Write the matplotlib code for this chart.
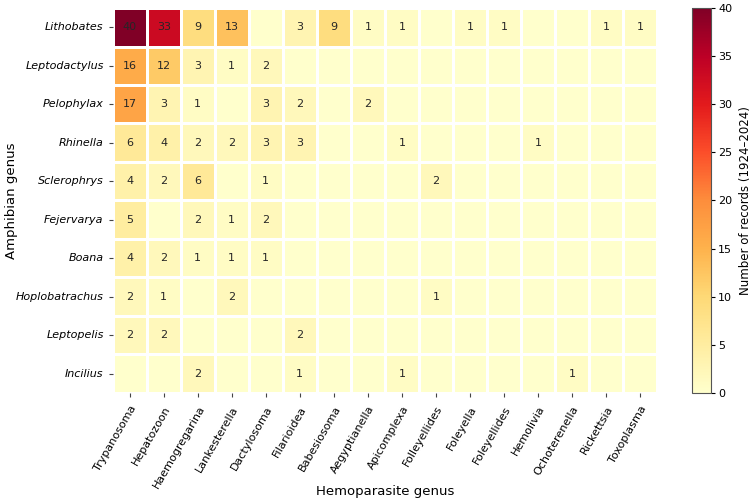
import numpy as np
import matplotlib
matplotlib.use('Agg')
import matplotlib.pyplot as plt
import seaborn as sns

amphibians = ['Lithobates', 'Leptodactylus', 'Pelophylax', 'Rhinella', 'Sclerophrys',
              'Fejervarya', 'Boana', 'Hoplobatrachus', 'Leptopelis', 'Incilius']
parasites = ['Trypanosoma', 'Hepatozoon', 'Haemogregarina', 'Lankesterella', 'Dactylosoma',
             'Filarioidea', 'Babesiosoma', 'Aegyptianella', 'Apicomplexa', 'Folleyellides',
             'Foleyella', 'Foleyellides', 'Hemolivia', 'Ochoterenella', 'Rickettsia', 'Toxoplasma']

lithobates     = [40, 33, 9, 13, 0, 3, 9, 1, 1, 0, 1, 1, 0, 0, 1, 1]
leptodactylus  = [16, 12, 3, 1, 2, 0, 0, 0, 0, 0, 0, 0, 0, 0, 0, 0]
pelophylax     = [17, 3, 1, 0, 3, 2, 0, 2, 0, 0, 0, 0, 0, 0, 0, 0]
rhinella       = [6, 4, 2, 2, 3, 3, 0, 0, 1, 0, 0, 0, 1, 0, 0, 0]
sclerophrys    = [4, 2, 6, 0, 1, 0, 0, 0, 0, 2, 0, 0, 0, 0, 0, 0]
fejervarya     = [5, 0, 2, 1, 2, 0, 0, 0, 0, 0, 0, 0, 0, 0, 0, 0]
boana          = [4, 2, 1, 1, 1, 0, 0, 0, 0, 0, 0, 0, 0, 0, 0, 0]
hoplobatrachus = [2, 1, 0, 2, 0, 0, 0, 0, 0, 1, 0, 0, 0, 0, 0, 0]
leptopelis     = [2, 2, 0, 0, 0, 2, 0, 0, 0, 0, 0, 0, 0, 0, 0, 0]
incilius       = [0, 0, 2, 0, 0, 1, 0, 0, 1, 0, 0, 0, 0, 1, 0, 0]

counts = np.array([lithobates, leptodactylus, pelophylax, rhinella, sclerophrys,
                   fejervarya, boana, hoplobatrachus, leptopelis, incilius])
labels = np.where(counts > 0, counts.astype(str), '')

fig = plt.figure(figsize=(7.51, 5.03), dpi=100)
ax = fig.add_axes([0.150, 0.219, 0.725, 0.765])
cax = fig.add_axes([0.921, 0.219, 0.026, 0.765])

sns.heatmap(counts, ax=ax, cbar_ax=cax, cmap='YlOrRd', vmin=0, vmax=40,
            annot=labels, fmt='', annot_kws={'fontsize': 8, 'color': '#262626'},
            linewidths=0.8, linecolor='white',
            xticklabels=parasites, yticklabels=amphibians)

ax.set_xticklabels(parasites, rotation=60, ha='right', rotation_mode='anchor', fontsize=8)
ax.set_yticklabels(amphibians, rotation=0, fontsize=8, style='italic')
ax.tick_params(length=3, width=0.8, color='#444444')
ax.tick_params(axis='x', pad=5)
ax.set_xlabel('Hemoparasite genus', fontsize=9.5, va='center')
ax.set_ylabel('Amphibian genus', fontsize=9.5, va='center')
ax.xaxis.set_label_coords(0.5, -0.257)
ax.yaxis.set_label_coords(-0.186, 0.5)

cbar = ax.collections[0].colorbar
cbar.outline.set_visible(True)
cbar.outline.set_linewidth(0.8)
cbar.outline.set_edgecolor('#555555')
cbar.set_label('Number of records (1924\u20132024)', fontsize=8.5, va='center')
cbar.ax.yaxis.set_label_coords(2.75, 0.5)
cbar.ax.tick_params(labelsize=8, length=3, pad=2)

plt.savefig('out.png', dpi=100)
